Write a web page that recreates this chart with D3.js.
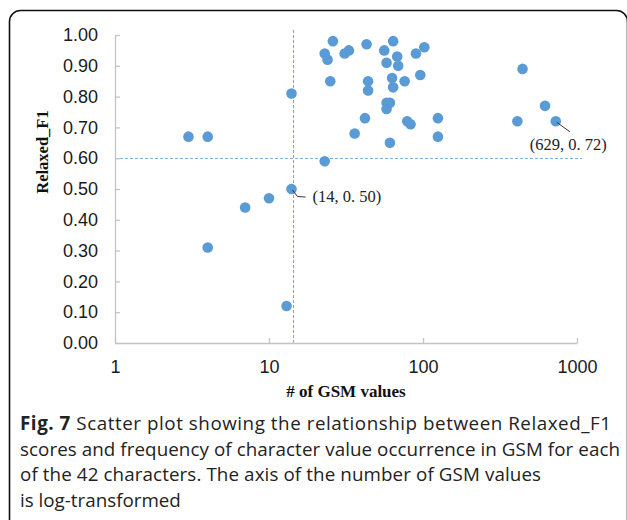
<!DOCTYPE html>
<html>
<head>
<meta charset="utf-8">
<script src="https://cdn.jsdelivr.net/npm/d3@7"></script>
<style>
  body { margin: 0; background: #fff; }
  svg { display: block; }
</style>
</head>
<body>
<div id="chart"></div>
<script>
// number of GSM values (x, log scale) and Relaxed_F1 score (y)
var gsmCounts = [3, 4, 4, 7, 10, 13, 14, 14, 23, 23, 24, 25, 26, 31, 33, 36, 42, 43, 44, 44,
                 56, 58, 58, 61, 58, 61, 63, 64, 64, 68, 69, 76, 79, 83, 90, 96, 102, 125, 125,
                 410, 443, 620, 728]
var relaxedF1 = [0.67, 0.67, 0.31, 0.44, 0.47, 0.12, 0.50, 0.81, 0.59, 0.94, 0.92, 0.85, 0.98, 0.94, 0.95, 0.68, 0.73, 0.97, 0.85, 0.82,
                 0.95, 0.91, 0.78, 0.78, 0.76, 0.65, 0.86, 0.83, 0.98, 0.93, 0.90, 0.85, 0.72, 0.71, 0.94, 0.87, 0.96, 0.73, 0.67,
                 0.72, 0.89, 0.77, 0.72]
var xTicks = [1, 10, 100, 1000]
var yTicks = [0, 0.1, 0.2, 0.3, 0.4, 0.5, 0.6, 0.7, 0.8, 0.9, 1.0]
var refX = 14.4, refY = 0.6
var notes = [{x: 14, y: 0.50, label: "(14, 0. 50)"}, {x: 728, y: 0.72, label: "(629, 0. 72)"}]
var caption = [
  "Scatter plot showing the relationship between Relaxed_F1",
  "scores and frequency of character value occurrence in GSM for each",
  "of the 42 characters. The axis of the number of GSM values",
  "is log-transformed"
]
var captionWidths = [591, 600, 521, null]

var width = 627, height = 520
var svg = d3.select("#chart").append("svg")
  .attr("width", width)
  .attr("height", height)

// rounded frame round the figure
svg.append("rect")
  .attr("x", 9.5).attr("y", 10.5)
  .attr("width", 618).attr("height", 540)
  .attr("rx", 11)
  .attr("fill", "none")
  .attr("stroke", "#111")
  .attr("stroke-width", 1.6)

var x = d3.scaleLog().domain([1, 1000]).range([115, 577])
var y = d3.scaleLinear().domain([0, 1]).range([343, 35])

var data = gsmCounts.map(function(d, i) { return {x: d, y: relaxedF1[i]} })

// reference lines
var rx = Math.round(x(refX)) + 0.5, ry = Math.round(y(refY)) + 0.5
svg.append("line")
  .attr("x1", rx).attr("x2", rx)
  .attr("y1", y(0)).attr("y2", y(1.02))
  .attr("stroke", "#6fa8e0").attr("stroke-width", 1)
  .attr("stroke-dasharray", "3,2")
svg.append("line")
  .attr("x1", x(1)).attr("x2", x(1080))
  .attr("y1", ry).attr("y2", ry)
  .attr("stroke", "#7fb0e0").attr("stroke-width", 1)
  .attr("stroke-dasharray", "3,2")

// axes, ticks pointing inwards
var yAxis = svg.append("g")
  .attr("transform", "translate(" + x(1) + ",0)")
  .call(d3.axisLeft(y).tickValues(yTicks).tickFormat(d3.format(".2f")).tickSizeInner(-5).tickSizeOuter(0).tickPadding(17))
var xAxis = svg.append("g")
  .attr("transform", "translate(0," + y(0) + ")")
  .call(d3.axisBottom(x).tickValues(xTicks).tickFormat(d3.format("d")).tickSizeInner(-5).tickSizeOuter(0).tickPadding(17))

svg.selectAll(".domain, .tick line").attr("stroke", "#c4c4c4").attr("stroke-width", 1.3)
svg.selectAll(".tick text")
  .attr("font-family", "Liberation Sans, Arial, sans-serif")
  .attr("font-size", 18)
  .attr("fill", "#1a1a1a")

// points
svg.selectAll(".datapoint")
  .data(data)
  .enter().append("circle")
  .attr("class", "datapoint")
  .attr("cx", function(d) { return x(d.x) })
  .attr("cy", function(d) { return y(d.y) })
  .attr("r", 5.3)
  .attr("fill", "#5b9bd5")

// data labels with leader lines
var n0 = notes[0], n1 = notes[1]
svg.append("path")
  .attr("d", "M" + (x(n0.x) + 1) + "," + (y(n0.y) + 1) + "l5,6.5l8,0.5")
  .attr("fill", "none").attr("stroke", "#333").attr("stroke-width", 1)
svg.append("text")
  .attr("x", x(n0.x) + 21).attr("y", y(n0.y) + 13)
  .attr("font-family", "Liberation Serif, Times New Roman, serif")
  .attr("font-size", 16.5)
  .attr("fill", "#222")
  .text(n0.label)
svg.append("path")
  .attr("d", "M" + (x(n1.x) + 1) + "," + (y(n1.y) + 1) + "l13,9.5")
  .attr("fill", "none").attr("stroke", "#333").attr("stroke-width", 1)
svg.append("text")
  .attr("x", x(n1.x) - 26).attr("y", y(n1.y) + 29)
  .attr("font-family", "Liberation Serif, Times New Roman, serif")
  .attr("font-size", 16.5)
  .attr("fill", "#222")
  .text(n1.label)

// axis titles
svg.append("text")
  .attr("transform", "translate(48," + y(0.62) + ") rotate(-90)")
  .attr("text-anchor", "middle")
  .attr("font-family", "Liberation Serif, Times New Roman, serif")
  .attr("font-weight", "bold")
  .attr("font-size", 16.5)
  .attr("fill", "#111")
  .text("Relaxed_F1")
svg.append("text")
  .attr("x", x(Math.sqrt(1000))).attr("y", 397)
  .attr("text-anchor", "middle")
  .attr("font-family", "Liberation Serif, Times New Roman, serif")
  .attr("font-weight", "bold")
  .attr("font-size", 17)
  .attr("fill", "#111")
  .text("# of GSM values")

// caption
var cap = svg.append("g")
  .attr("font-family", "Open Sans, Noto Sans, sans-serif")
  .attr("font-size", 18.8)
  .attr("fill", "#222")
cap.selectAll("text")
  .data(caption)
  .enter().append("text")
  .attr("x", 20)
  .attr("y", function(d, i) { return 430 + i * 25.5 })
  .each(function(d, i) {
    var t = d3.select(this)
    if (i == 0) {
      t.append("tspan").attr("font-weight", "bold").text("Fig. 7")
      t.append("tspan").text(" " + d)
    } else {
      t.text(d)
    }
    if (captionWidths[i]) t.attr("textLength", captionWidths[i]).attr("lengthAdjust", "spacing")
  })
</script>
</body>
</html>
